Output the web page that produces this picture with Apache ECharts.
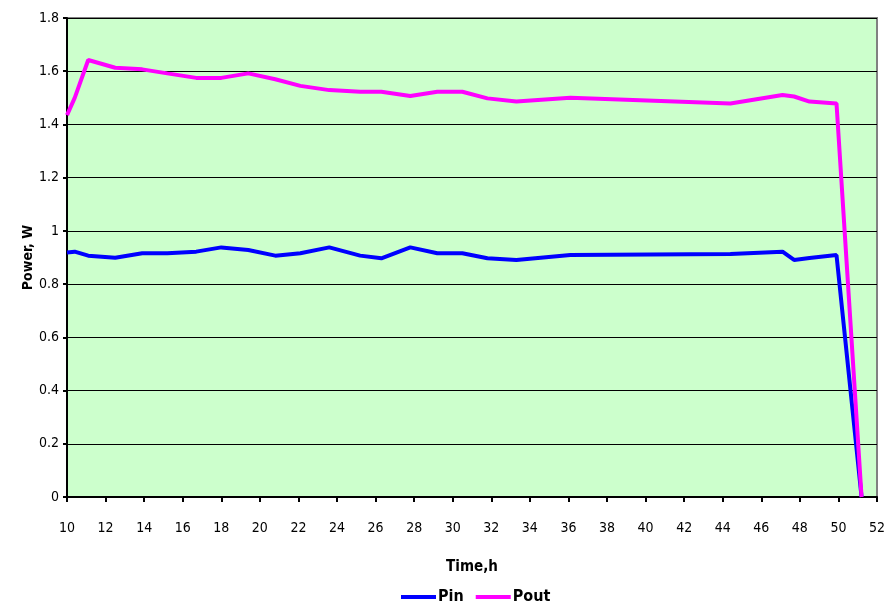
<!DOCTYPE html>
<html><head><meta charset="utf-8">
<script src="https://cdn.jsdelivr.net/npm/echarts@6/dist/echarts.min.js"></script>
<style>html,body{margin:0;padding:0;background:#fff}#c{width:892px;height:612px}</style>
</head><body><div id="c"></div>
<script>
const times = [10, 10.4, 11.1, 12.5, 13.9, 15.2, 16.7, 18, 19.4, 20.8, 22.1, 23.6, 25.2, 26.3, 27.8, 29.2, 30.5, 31.8, 33.3, 36.1, 44.4, 47.1, 47.7, 48.5, 49.9, 51.2];
const pin  = [0.919, 0.922, 0.907, 0.899, 0.916, 0.916, 0.922, 0.938, 0.928, 0.907, 0.916, 0.938, 0.907, 0.897, 0.938, 0.916, 0.916, 0.897, 0.891, 0.909, 0.913, 0.922, 0.891, 0.898, 0.909, 0];
const pout = [1.435, 1.50, 1.642, 1.613, 1.607, 1.592, 1.575, 1.575, 1.592, 1.570, 1.545, 1.529, 1.523, 1.523, 1.507, 1.523, 1.523, 1.498, 1.486, 1.50, 1.479, 1.511, 1.505, 1.486, 1.479, 0];
const seriesNames = ['Pin', 'Pout'];
const xTitle = 'Time,h';
const yTitle = 'Power, W';

const font = '"DejaVu Sans Condensed", "Liberation Sans Narrow", "Liberation Sans", Arial, sans-serif';
const chart = echarts.init(document.getElementById('c'), null, {renderer: 'canvas'});
chart.setOption({
  animation: false,
  backgroundColor: '#ffffff',
  grid: {left: 67, right: 15, top: 18, bottom: 115, show: true, backgroundColor: '#CCFFCC', borderColor: '#808080', borderWidth: 2},
  legend: {
    bottom: 2, left: 396, itemWidth: 35, itemHeight: 4, itemGap: 12,
    icon: 'rect',
    textStyle: {fontFamily: font, fontWeight: 'bold', fontSize: 16, color: '#000', padding: [0,0,0,-3]},
    data: seriesNames
  },
  xAxis: {
    type: 'value', min: 10, max: 52, interval: 2,
    name: xTitle, nameLocation: 'middle', nameGap: 63,
    nameTextStyle: {fontFamily: font, fontWeight: 'bold', fontSize: 15, color: '#000'},
    axisLine: {onZero: false, lineStyle: {color: '#000', width: 2}},
    axisTick: {show: true, inside: false, length: 5, lineStyle: {color: '#000', width: 2}},
    axisLabel: {fontFamily: font, fontSize: 14, color: '#000', margin: 24},
    splitLine: {show: false}
  },
  yAxis: {
    type: 'value', min: 0, max: 1.8, interval: 0.2,
    name: yTitle, nameLocation: 'middle', nameGap: 32, nameRotate: 90, nameMoveOverlap: false,
    nameTextStyle: {fontFamily: font, fontWeight: 'bold', fontSize: 14, color: '#000'},
    axisLine: {show: true, lineStyle: {color: '#000', width: 2}},
    axisTick: {show: true, inside: false, length: 4, lineStyle: {color: '#000', width: 2}},
    axisLabel: {fontFamily: font, fontSize: 14, color: '#000', margin: 8,
      formatter: v => String(Math.round(v * 10) / 10)},
    splitLine: {show: true, lineStyle: {color: '#000', width: 1}}
  },
  series: [
    {name: seriesNames[0], type: 'line', data: times.map((t, i) => [t, pin[i]]), showSymbol: false, symbol: 'none',
      lineStyle: {color: '#0000FF', width: 4}, itemStyle: {color: '#0000FF'}},
    {name: seriesNames[1], type: 'line', data: times.map((t, i) => [t, pout[i]]), showSymbol: false, symbol: 'none',
      lineStyle: {color: '#FF00FF', width: 4}, itemStyle: {color: '#FF00FF'}}
  ]
});
</script></body></html>
